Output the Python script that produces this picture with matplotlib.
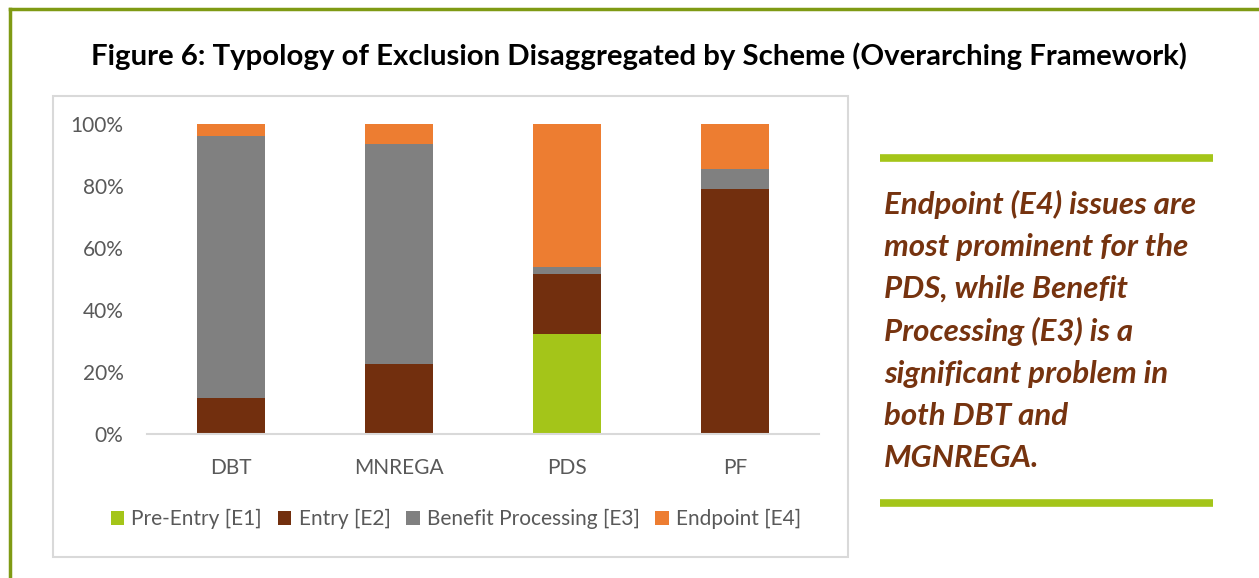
import matplotlib
matplotlib.use("Agg")
import matplotlib.pyplot as plt
from matplotlib.patches import Rectangle, Patch
from matplotlib.lines import Line2D
import numpy as np

categories = ["DBT", "MNREGA", "PDS", "PF"]
series_names = ["Pre-Entry [E1]", "Entry [E2]", "Benefit Processing [E3]", "Endpoint [E4]"]
pre_entry = [0.0, 0.0, 32.3, 0.0]
entry = [11.7, 22.7, 19.3, 79.0]
benefit = [84.5, 71.0, 2.4, 6.5]
endpoint = [3.8, 6.3, 46.0, 14.5]
y_ticks = [0, 20, 40, 60, 80, 100]
y_tick_labels = ["0%", "20%", "40%", "60%", "80%", "100%"]
title = "Figure 6: Typology of Exclusion Disaggregated by Scheme (Overarching Framework)"
note = ("Endpoint (E4) issues are\nmost prominent for the\nPDS, while Benefit\n"
        "Processing (E3) is a\nsignificant problem in\nboth DBT and\nMGNREGA.")

colors = ["#A4C519", "#722F0E", "#808080", "#ED7D31"]
FONT = "Lato"

W, H = 1259, 578
fig = plt.figure(figsize=(W / 100, H / 100), dpi=100)

def fx(px):
    return px / W

def fy(py):
    return 1 - py / H

# Outer olive frame (left and top edges)
fig.add_artist(Line2D([fx(10), fx(10)], [fy(578), fy(9)], color="#7F9A14", lw=2.5,
                      transform=fig.transFigure))
fig.add_artist(Line2D([fx(10), fx(1259)], [fy(9), fy(9)], color="#7F9A14", lw=2.5,
                      transform=fig.transFigure))

# Chart box
fig.add_artist(Rectangle((fx(53), fy(557)), fx(848) - fx(53), fy(96) - fy(557),
                         fill=False, edgecolor="#D9D9D9", lw=1.5, transform=fig.transFigure))

fig.text(fx(639), fy(56), title, ha="center", va="center", fontsize=21.2,
         fontweight="bold", family=FONT, color="black")

ax = fig.add_axes([fx(147), fy(434), fx(819) - fx(147), fy(124) - fy(434)])
x = np.arange(len(categories))
bottom = np.zeros(len(categories))
for vals, c, name in zip([pre_entry, entry, benefit, endpoint], colors, series_names):
    v = np.array(vals)
    ax.bar(x, v, 0.4, bottom=bottom, color=c, label=name, edgecolor="none")
    bottom += v

ax.set_xlim(-0.5, 3.5)
ax.set_ylim(0, 100)
ax.set_yticks(y_ticks)
ax.set_yticklabels(y_tick_labels)
ax.set_xticks(x)
ax.set_xticklabels(categories)
for s in ["top", "right", "left"]:
    ax.spines[s].set_visible(False)
ax.spines["bottom"].set_color("#D9D9D9")
ax.spines["bottom"].set_linewidth(1.5)
ax.tick_params(axis="both", length=0, labelsize=15, labelcolor="#595959")
ax.tick_params(axis="y", pad=17)
ax.tick_params(axis="x", pad=17)
for lbl in ax.get_xticklabels() + ax.get_yticklabels():
    lbl.set_family(FONT)

handles = [Patch(facecolor=c, edgecolor="none") for c in colors]
leg = fig.legend(handles, series_names, loc="center", bbox_to_anchor=(fx(456), fy(519)),
                 ncol=4, frameon=False, handlelength=0.65, handleheight=0.65,
                 handletextpad=0.35, columnspacing=0.75,
                 prop={"family": FONT, "size": 15})
for t in leg.get_texts():
    t.set_color("#595959")

# Right side note
fig.add_artist(Line2D([fx(880), fx(1213)], [fy(158), fy(158)], color="#A4C519", lw=5.5,
                      transform=fig.transFigure, solid_capstyle="butt"))
fig.add_artist(Line2D([fx(880), fx(1213)], [fy(503), fy(503)], color="#A4C519", lw=5.5,
                      transform=fig.transFigure, solid_capstyle="butt"))
fig.text(fx(884), fy(190), note, ha="left", va="top", fontsize=22.5, fontweight="bold",
         fontstyle="italic", family=FONT, color="#76330F", linespacing=1.6)

fig.savefig("out.png", dpi=100)
